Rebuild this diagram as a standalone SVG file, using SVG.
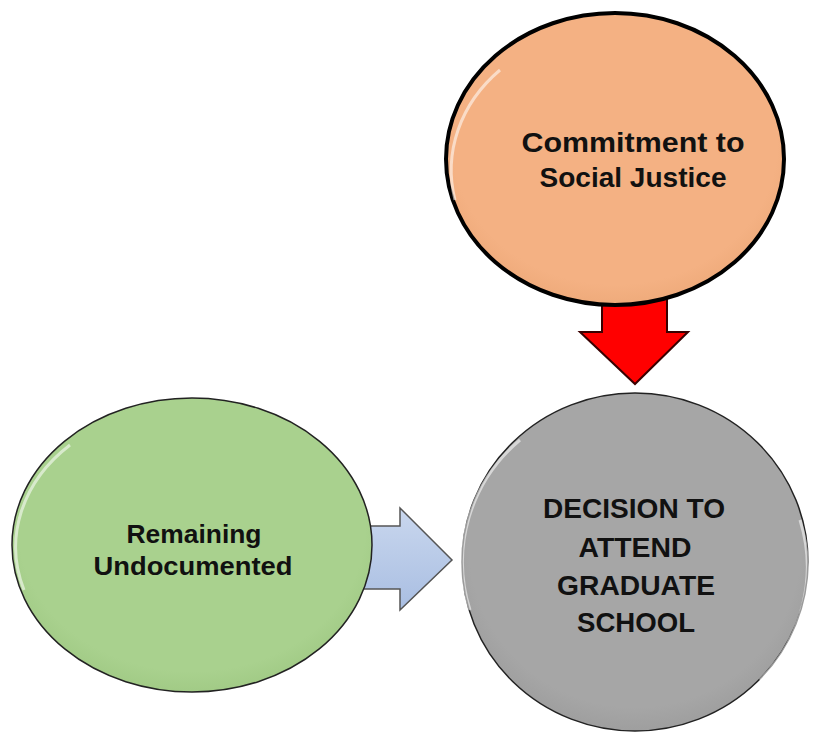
<svg xmlns="http://www.w3.org/2000/svg" width="814" height="738" viewBox="0 0 814 738">
<defs>
<style>
.lbl{font-family:"Liberation Sans",Arial,sans-serif;font-weight:bold;fill:#111;text-anchor:middle}
.gloss{fill:none;stroke:#ffffff;stroke-opacity:0.55;stroke-width:3}
</style>
<radialGradient id="gOr" cx="0.5" cy="0.45" r="0.6"><stop offset="0.8" stop-color="#F4B183"/><stop offset="1" stop-color="#EBA675"/></radialGradient>
<radialGradient id="gGr" cx="0.5" cy="0.45" r="0.6"><stop offset="0.8" stop-color="#A9D18E"/><stop offset="1" stop-color="#9CC680"/></radialGradient>
<radialGradient id="gGy" cx="0.5" cy="0.45" r="0.6"><stop offset="0.8" stop-color="#A6A6A6"/><stop offset="1" stop-color="#999999"/></radialGradient>
<linearGradient id="gBl" x1="0" y1="0" x2="0" y2="1"><stop offset="0" stop-color="#C9D7EE"/><stop offset="1" stop-color="#A9BEE2"/></linearGradient>
</defs>
<rect width="814" height="738" fill="#ffffff"/>
<g id="connectors">
<path d="M602,290 L667,290 L667,332 L688,332 L635,384 L580,332 L602,332 Z" fill="#FF0000" stroke="#3a0000" stroke-width="2" stroke-linejoin="miter"/>
<path d="M360,526 L400,526 L400,508 L452,560 L400,610 L400,589 L360,589 Z" fill="url(#gBl)" stroke="#555" stroke-width="1.5"/>
</g>
<g id="node-commitment">
<ellipse cx="615" cy="159" rx="169" ry="146" fill="url(#gOr)" stroke="#000" stroke-width="4"/>
<path class="gloss" d="M455,200 A162,140 0 0 1 500,70"/>
<text class="lbl" font-size="28" x="633" y="152" textLength="223" lengthAdjust="spacingAndGlyphs">Commitment to</text>
<text class="lbl" font-size="28" x="633" y="187" textLength="187" lengthAdjust="spacingAndGlyphs">Social Justice</text>
</g>
<g id="node-undocumented">
<ellipse cx="192" cy="545" rx="180" ry="147" fill="url(#gGr)" stroke="#222" stroke-width="1.5"/>
<path class="gloss" d="M24,590 A172,140 0 0 1 70,445"/>
<text class="lbl" font-size="26" x="194" y="543" textLength="135" lengthAdjust="spacingAndGlyphs">Remaining</text>
<text class="lbl" font-size="26" x="193" y="575" textLength="199" lengthAdjust="spacingAndGlyphs">Undocumented</text>
</g>
<g id="node-decision">
<ellipse cx="635" cy="562" rx="173" ry="169" fill="url(#gGy)" stroke="#222" stroke-width="1.5"/>
<path class="gloss" d="M470,610 A165,161 0 0 1 520,440"/>
<path class="gloss" d="M800,520 A165,161 0 0 1 760,680"/>
<text class="lbl" font-size="27" x="634" y="518" textLength="182" lengthAdjust="spacingAndGlyphs">DECISION TO</text>
<text class="lbl" font-size="27" x="635" y="557" textLength="113" lengthAdjust="spacingAndGlyphs">ATTEND</text>
<text class="lbl" font-size="27" x="636" y="595" textLength="158" lengthAdjust="spacingAndGlyphs">GRADUATE</text>
<text class="lbl" font-size="27" x="636" y="632" textLength="118" lengthAdjust="spacingAndGlyphs">SCHOOL</text>
</g>
</svg>
